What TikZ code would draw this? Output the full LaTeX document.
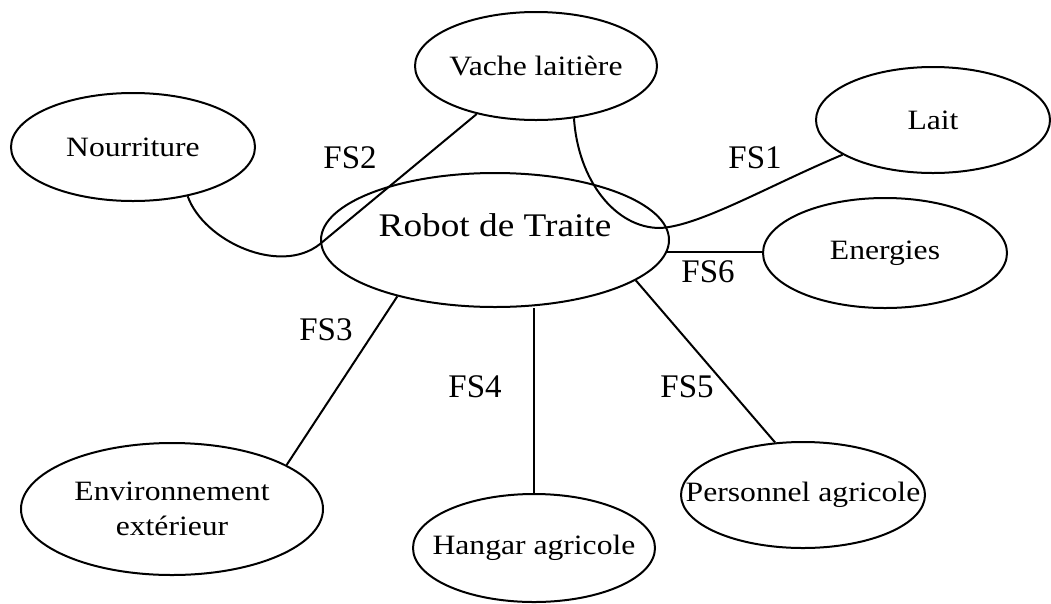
\documentclass[tikz,border=0pt]{standalone}
\usepackage{fontspec}
\setmainfont{Liberation Serif}[FakeStretch=1.13]
\newfontfamily\fsfont{Liberation Serif}
\usetikzlibrary{shapes.geometric}
\begin{document}
\begin{tikzpicture}[x=1pt,y=-1pt,
  box/.style={draw, line width=2pt, ellipse, inner sep=0pt},
  lbl/.style={font=\fontsize{28}{35}\selectfont, align=center, inner sep=0pt},
  big/.style={font=\fontsize{33}{40}\selectfont, inner sep=0pt},
  fs/.style={font=\fsfont\fontsize{33}{40}\selectfont, inner sep=0pt},
  conn/.style={line width=2pt}]
\fill[white] (0,0) rectangle (1051,603);
\useasboundingbox (0,0) rectangle (1051,603);
% ellipses
\node[box, minimum width=242pt, minimum height=108pt, label={[lbl]center:Vache laitière}] (vache) at (536,66) {};
\node[box, minimum width=234pt, minimum height=106pt, label={[lbl]center:Lait}] (lait) at (933,120) {};
\node[box, minimum width=244pt, minimum height=108pt, label={[lbl]center:Nourriture}] (nour) at (133,147) {};
\node[box, minimum width=348pt, minimum height=134pt, label={[big, yshift=15pt]center:Robot de Traite}] (robot) at (495,240) {};
\node[box, minimum width=244pt, minimum height=110pt, label={[lbl]center:Energies}] (energ) at (885,253) {};
\node[box, minimum width=302pt, minimum height=132pt, label={[lbl]center:Environnement\\extérieur}] (env) at (172,509) {};
\node[box, minimum width=242pt, minimum height=108pt, label={[lbl]center:Hangar agricole}] (hangar) at (534,548) {};
\node[box, minimum width=244pt, minimum height=106pt, label={[lbl]center:Personnel agricole}] (pers) at (803,495) {};
% helper coordinates
\coordinate (fs2bend) at (320,244);
\coordinate (fs1bend) at (660,228);
% connectors
\draw[conn] (nour.-42) .. controls +(16,45) and +(-40,32) .. (fs2bend) -- (vache.219);
\draw[conn] (vache.-54) .. controls (578,180) and (615,228) .. (fs1bend) .. controls (700,226) and (770,185) .. (lait.201);
\draw[conn] (robot.-4.3) -- (robot.-4.3 -| energ.west);
\draw[conn] (robot.210) -- (env.21);
\draw[conn] (hangar.north |- robot.south) -- (hangar.north);
\draw[conn] (robot.-16) -- (pers.118);
% labels
\node[fs] (fs1) at (755,158) {FS1};
\node[fs] (fs2) at (350,158) {FS2};
\node[fs] (fs3) at (326,330) {FS3};
\node[fs] (fs4) at (475,387) {FS4};
\node[fs] (fs5) at (687,387) {FS5};
\node[fs] (fs6) at (708,272) {FS6};
\end{tikzpicture}
\end{document}
